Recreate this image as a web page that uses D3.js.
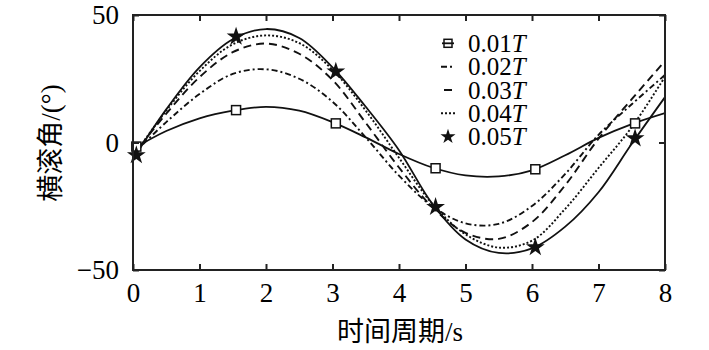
<!DOCTYPE html>
<html>
<head>
<meta charset="utf-8">
<script src="https://cdn.jsdelivr.net/npm/d3@7"></script>
<style>
  html, body { margin: 0; padding: 0; background: #fff; }
  svg text { font-family: "Liberation Serif", "Times New Roman", serif; fill: #000; }
  .cjk { font-family: "Liberation Serif", "Noto Sans CJK SC", serif; }
</style>
</head>
<body>
<svg id="chart" width="709" height="350"></svg>
<script>
// ---- data ----
const times = [0, 0.5, 1, 1.5, 2, 2.5, 3, 3.5, 4, 4.5, 5, 5.5, 6, 6.5, 7, 7.5, 8];
const seriesNames = ["0.01", "0.02", "0.03", "0.04", "0.05"];
const roll001 = [-2.5, 4.5, 9.5, 12.5, 14, 12.5, 8, 2, -4.5, -9.8, -12.9, -13.3, -10.9, -5, 1.8, 7.2, 11.5];
const roll002 = [-4.5, 8, 19, 26.9, 28.7, 25, 16, 2, -13, -25, -31.7, -31.9, -24.9, -12.3, 3, 15, 26.5];
const roll003 = [-5, 11.3, 25.6, 35.4, 38.8, 34.8, 24.5, 7.7, -9.8, -25.3, -35.4, -37.8, -31.2, -16.7, 1.5, 17, 32];
const roll004 = [-5.5, 12.5, 28, 38.5, 42, 39, 28.5, 12.5, -6, -24, -36, -41.2, -38.5, -26, -10, 6, 25.8];
const roll005 = [-6.5, 13, 29.5, 40.5, 44.5, 41, 29.5, 14, -3, -24, -38, -43.3, -41.5, -33, -19.5, -0.5, 17.8];
const markerTimes = [0.05, 1.55, 3.05, 4.55, 6.05, 7.55];
const squareMarks = [-1.6, 12.7, 7.5, -10.1, -10.5, 7.5];
const starMarks = [-5, 41.5, 27.8, -25.3, -41.1, 1.6];
const xTicks = [0, 1, 2, 3, 4, 5, 6, 7, 8];
const yTicks = [-50, 0, 50];
const xTitle = "时间周期/s";
const yTitle = "横滚角/(°)";

(function () {
// ---- layout ----
const svg = d3.select("#chart");
const mLeft = 133, mRight = 665, mTop = 15, mBottom = 270;
const x = d3.scaleLinear().domain([0, 8]).range([mLeft, mRight]);
const y = d3.scaleLinear().domain([-50, 50]).range([mBottom, mTop]);
const ink = "#111";

const styles = [
  { data: roll001, dash: null, width: 1.8 },
  { data: roll002, dash: "6,3,2,3", width: 1.9 },
  { data: roll003, dash: "8,5", width: 1.9 },
  { data: roll004, dash: "2,2", width: 1.9 },
  { data: roll005, dash: null, width: 1.8 }
];

const line = d3.line()
  .x((d, i) => x(times[i]))
  .y(d => y(d))
  .curve(d3.curveCatmullRom.alpha(0.5));

const plot = svg.append("g");
plot.append("clipPath").attr("id", "clip").append("rect")
  .attr("x", mLeft).attr("y", mTop).attr("width", mRight - mLeft).attr("height", mBottom - mTop);

const curves = plot.append("g").attr("clip-path", "url(#clip)");
styles.forEach(s => {
  curves.append("path")
    .attr("d", line(s.data))
    .attr("fill", "none")
    .attr("stroke", ink)
    .attr("stroke-width", s.width)
    .attr("stroke-dasharray", s.dash);
});

// markers
const sq = 9;
plot.selectAll("rect.sq").data(squareMarks).enter().append("rect")
  .attr("class", "sq")
  .attr("x", (d, i) => x(markerTimes[i]) - sq / 2)
  .attr("y", d => y(d) - sq / 2)
  .attr("width", sq).attr("height", sq)
  .attr("fill", "#fff").attr("stroke", ink).attr("stroke-width", 1.5);

const star = d3.symbol().type(d3.symbolStar).size(110);
plot.selectAll("path.star").data(starMarks).enter().append("path")
  .attr("class", "star")
  .attr("transform", (d, i) => `translate(${x(markerTimes[i])},${y(d)})`)
  .attr("d", star)
  .attr("fill", ink);

// frame
svg.append("rect")
  .attr("x", mLeft).attr("y", mTop).attr("width", mRight - mLeft).attr("height", mBottom - mTop)
  .attr("fill", "none").attr("stroke", "#222").attr("stroke-width", 2);

// axes with inward ticks
const xAxis = svg.append("g").attr("transform", `translate(0,${mBottom})`)
  .call(d3.axisBottom(x).tickValues(xTicks).tickSize(-6).tickPadding(13).tickFormat(d3.format("d")));
const xAxisTop = svg.append("g").attr("transform", `translate(0,${mTop})`)
  .call(d3.axisTop(x).tickValues(xTicks).tickSize(-6).tickFormat(""));
const yAxis = svg.append("g").attr("transform", `translate(${mLeft},0)`)
  .call(d3.axisLeft(y).tickValues(yTicks).tickSize(-6).tickPadding(14).tickFormat(d => d < 0 ? "\u2212" + Math.abs(d) : d));
const yAxisR = svg.append("g").attr("transform", `translate(${mRight},0)`)
  .call(d3.axisRight(y).tickValues(yTicks).tickSize(-6).tickFormat(""));
[xAxis, xAxisTop, yAxis, yAxisR].forEach(g => {
  g.select(".domain").remove();
  g.selectAll(".tick line").attr("stroke", "#222").attr("stroke-width", 2);
  g.selectAll(".tick text").attr("font-size", 27).attr("font-family", "Liberation Serif").attr("fill", "#000");
});

// titles
svg.append("text").attr("class", "cjk")
  .attr("x", 400).attr("y", 341).attr("text-anchor", "middle")
  .attr("font-size", 27).text(xTitle);
svg.append("text").attr("class", "cjk")
  .attr("transform", "translate(60,143) rotate(-90)")
  .attr("text-anchor", "middle").attr("font-size", 27).text(yTitle);

// legend
const legend = svg.append("g");
const legY = [43.3, 66.7, 90, 113.3, 136.7];
seriesNames.forEach((name, i) => {
  const g = legend.append("g").attr("transform", `translate(0,${legY[i]})`);
  const cx = 448;
  if (i === 0) {
    g.append("line").attr("x1", cx - 6).attr("x2", cx + 6).attr("stroke", ink).attr("stroke-width", 1.8);
    g.append("rect").attr("x", cx - 4).attr("y", -4).attr("width", 8).attr("height", 8)
      .attr("fill", "none").attr("stroke", ink).attr("stroke-width", 1.5);
  } else if (i === 1) {
    g.append("line").attr("x1", cx - 7).attr("x2", cx + 5).attr("stroke", ink).attr("stroke-width", 2)
      .attr("stroke-dasharray", "6,3,2,3");
  } else if (i === 2) {
    g.append("line").attr("x1", cx - 4).attr("x2", cx + 4).attr("stroke", ink).attr("stroke-width", 2);
  } else if (i === 3) {
    g.append("line").attr("x1", cx - 7).attr("x2", cx + 7).attr("stroke", ink).attr("stroke-width", 2)
      .attr("stroke-dasharray", "2,2");
  } else {
    g.append("path").attr("d", d3.symbol().type(d3.symbolStar).size(70)).attr("transform", `translate(${cx},0)`).attr("fill", ink);
  }
  const t = g.append("text").attr("x", 468).attr("y", 8.5).attr("font-size", 25);
  t.append("tspan").text(name);
  t.append("tspan").attr("font-style", "italic").text("T");
});
})();
</script>
</body>
</html>
